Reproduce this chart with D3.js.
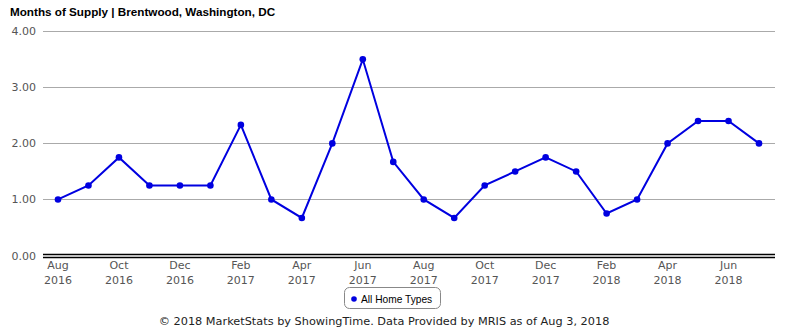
<!DOCTYPE html>
<html><head><meta charset="utf-8">
<script src="https://cdn.jsdelivr.net/npm/d3@7"></script>
<style>body{margin:0;background:#fff}svg{display:block}</style>
</head><body>
<svg id="c" width="785" height="330"></svg>
<script>
const months = ["Aug 2016","Sep 2016","Oct 2016","Nov 2016","Dec 2016","Jan 2017","Feb 2017","Mar 2017","Apr 2017","May 2017","Jun 2017","Jul 2017","Aug 2017","Sep 2017","Oct 2017","Nov 2017","Dec 2017","Jan 2018","Feb 2018","Mar 2018","Apr 2018","May 2018","Jun 2018","Jul 2018"];
const values = [1.00,1.25,1.75,1.25,1.25,1.25,2.33,1.00,0.67,2.00,3.50,1.67,1.00,0.67,1.25,1.50,1.75,1.50,0.75,1.00,2.00,2.40,2.40,2.00];
const yTicks = [0,1,2,3,4];
const xTickLabels = ["Aug 2016","Oct 2016","Dec 2016","Feb 2017","Apr 2017","Jun 2017","Aug 2017","Oct 2017","Dec 2017","Feb 2018","Apr 2018","Jun 2018"];
const seriesName = "All Home Types";
const title = "Months of Supply | Brentwood, Washington, DC";
const footer = "\u00a9 2018 MarketStats by ShowingTime. Data Provided by MRIS as of Aug 3, 2018";

const svg = d3.select("#c");
const plotL = 43, plotR = 775, plotT = 31.3, plotB = 255.5;
const x = d3.scalePoint().domain(months).range([58, 759]);
const y = d3.scaleLinear().domain([0,4]).range([plotB, plotT]);

svg.append("text").attr("x",10).attr("y",16).text(title)
  .attr("font-family","Liberation Sans, Arial, sans-serif").attr("font-weight","bold").attr("font-size",11.7).attr("fill","#000");

// grid
svg.append("g").selectAll("line").data(yTicks.filter(d=>d>0)).join("line")
  .attr("x1",plotL).attr("x2",plotR).attr("y1",d=>Math.round(y(d))+0.5).attr("y2",d=>Math.round(y(d))+0.5)
  .attr("stroke","#aaa").attr("stroke-width",1);
// double baseline
[254.5, 257.5].forEach(yy=>svg.append("line").attr("x1",plotL).attr("x2",plotR).attr("y1",yy).attr("y2",yy).attr("stroke","#000").attr("stroke-width",1.6));

svg.append("g").selectAll("text").data(yTicks).join("text")
  .attr("x",36).attr("y",d=>y(d)+4).attr("text-anchor","end")
  .attr("font-family","DejaVu Sans, sans-serif").attr("font-size",11).attr("fill","#555")
  .text(d=>d3.format(".2f")(d));

const xl = svg.append("g").selectAll("text").data(xTickLabels).join("text")
  .attr("text-anchor","middle").attr("font-family","DejaVu Sans, sans-serif").attr("font-size",11).attr("fill","#555");
xl.append("tspan").attr("x",d=>x(d)).attr("y",269).text(d=>d.split(" ")[0]);
xl.append("tspan").attr("x",d=>x(d)).attr("y",284).text(d=>d.split(" ")[1]);

const line = d3.line().x((d,i)=>x(months[i])).y(d=>y(d));
svg.append("path").datum(values).attr("d",line).attr("fill","none").attr("stroke","#0000e0").attr("stroke-width",2);
svg.append("g").selectAll("circle").data(values).join("circle")
  .attr("cx",(d,i)=>x(months[i])).attr("cy",d=>y(d)).attr("r",3.3).attr("fill","#0000e0");

// legend
const lg = svg.append("g");
lg.append("rect").attr("x",344.5).attr("y",287.5).attr("width",96).attr("height",21).attr("rx",5)
  .attr("fill","#fff").attr("stroke","#888");
lg.append("circle").attr("cx",354).attr("cy",299).attr("r",2.8).attr("fill","#0000e0");
lg.append("text").attr("x",361).attr("y",303).text(seriesName)
  .attr("font-family","Liberation Sans, Arial, sans-serif").attr("font-size",10.2).attr("fill","#000");

svg.append("text").attr("x",384).attr("y",325).attr("text-anchor","middle").text(footer)
  .attr("font-family","DejaVu Sans, sans-serif").attr("font-size",11.3).attr("fill","#222");
</script>
</body></html>
